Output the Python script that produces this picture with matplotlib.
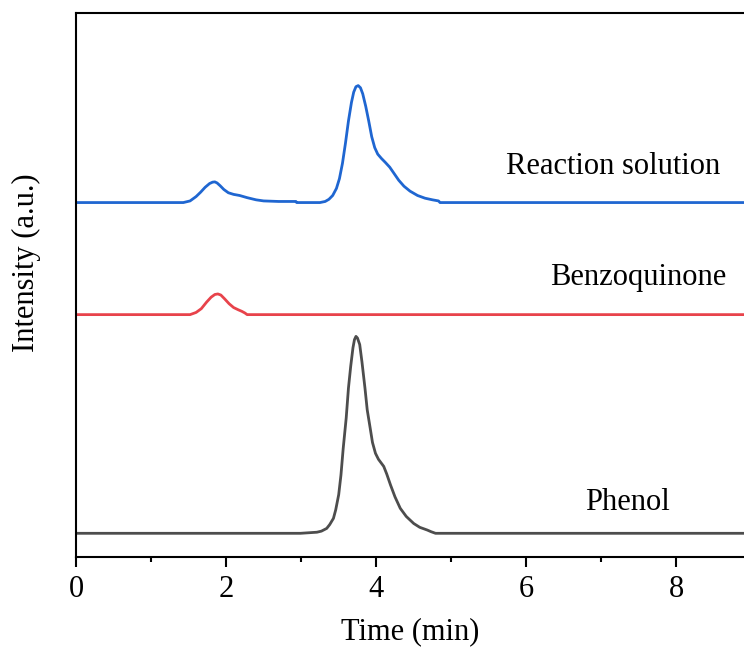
import matplotlib
matplotlib.use("Agg")
import matplotlib.pyplot as plt

# ---- data ----
t_reaction = [0.0, 1.43, 1.52, 1.60, 1.66, 1.72, 1.78, 1.82, 1.85, 1.88, 1.92, 1.97, 2.03, 2.10,
              2.18, 2.28, 2.40, 2.50, 2.70, 2.93,
              2.94, 3.25, 3.32, 3.37, 3.42, 3.47, 3.51, 3.55, 3.59, 3.63, 3.67, 3.70, 3.73, 3.76,
              3.79, 3.82, 3.86, 3.90, 3.94, 3.98, 4.02, 4.07, 4.12, 4.18, 4.24, 4.30, 4.37,
              4.45, 4.55, 4.65, 4.75, 4.83, 4.85, 8.9]
i_reaction = [65.1, 65.1, 65.4, 66.2, 67.0, 67.9, 68.6, 68.85, 68.9, 68.7, 68.2, 67.5, 66.9, 66.6,
              66.4, 66.0, 65.6, 65.4, 65.3, 65.3,
              65.1, 65.1, 65.3, 65.7, 66.4, 67.7, 69.5, 72.3, 76.0, 80.1, 83.5, 85.4, 86.4, 86.6,
              86.2, 85.1, 82.8, 80.1, 77.2, 75.2, 74.0, 73.2, 72.5, 71.6, 70.4, 69.2, 68.1,
              67.2, 66.4, 65.9, 65.6, 65.4, 65.1, 65.1]

t_benzo = [0.0, 1.52, 1.60, 1.67, 1.74, 1.80, 1.85, 1.89, 1.93, 1.98, 2.04, 2.10, 2.16, 2.21,
           2.25, 2.28, 8.9]
i_benzo = [44.5, 44.5, 44.9, 45.6, 46.8, 47.7, 48.2, 48.3, 48.1, 47.4, 46.5, 45.8, 45.4, 45.1,
           44.8, 44.5, 44.5]

t_phenol = [0.0, 2.99, 3.21, 3.27, 3.34, 3.38, 3.43, 3.46, 3.50, 3.53, 3.56, 3.60, 3.63, 3.66,
            3.69, 3.71, 3.73, 3.75, 3.78, 3.81, 3.85, 3.88, 3.92, 3.95, 3.99, 4.03, 4.10,
            4.14, 4.19, 4.25, 4.32, 4.40, 4.50, 4.58, 4.68, 4.73, 4.79, 8.9]
i_phenol = [4.3, 4.3, 4.5, 4.7, 5.2, 5.9, 7.05, 8.6, 11.4, 15.0, 19.9, 25.5, 31.0, 35.0,
            38.4, 39.9, 40.5, 40.2, 39.0, 35.8, 31.0, 27.0, 23.6, 21.0, 19.0, 17.9, 16.6,
            15.2, 13.2, 11.0, 8.9, 7.4, 6.1, 5.4, 4.9, 4.6, 4.3, 4.3]

series_names = ["Reaction solution", "Benzoquinone", "Phenol"]
x_ticks = [0, 2, 4, 6, 8]
x_minor = [1, 3, 5, 7]

plt.rcParams['font.family'] = ['Liberation Serif', 'DejaVu Serif']

fig = plt.figure(figsize=(7.44, 6.55), dpi=100)
W, H = 744, 655
left, right, top, bottom = 76, 744, 12.7, 556.7
ax = fig.add_axes([left / W, 1 - bottom / H, (right - left) / W, (bottom - top) / H])

kw = dict(lw=2.0, solid_joinstyle='round', solid_capstyle='round')
ax.plot(t_reaction, i_reaction, color='#1F66D1', **kw)
ax.plot(t_benzo, i_benzo, color='#E8434B', **kw)
ax.plot(t_phenol, i_phenol, color='#4D4D4D', **kw)

ax.set_xlim(0, 8.9)
ax.set_ylim(0, 100)
ax.set_xticks(x_ticks)
ax.set_xticks(x_minor, minor=True)
ax.set_yticks([])
ax.spines['right'].set_visible(False)
for s in ['left', 'top', 'bottom']:
    ax.spines[s].set_linewidth(1.5)
fs = 22
ax.tick_params(axis='x', which='major', direction='out', length=7, width=1.5,
               labelsize=fs, pad=6)
ax.tick_params(axis='x', which='minor', direction='out', length=3.6, width=1.5)

ax.text((613 - left) / 75, (556.7 - 166) / 5.44, series_names[0], fontsize=fs,
        ha='center', va='center')
ax.text((637.5 - left) / 75, (556.7 - 277) / 5.44, series_names[1], fontsize=fs,
        ha='center', va='center')
ax.text((627.5 - left) / 75, (556.7 - 502) / 5.44, series_names[2], fontsize=fs,
        ha='center', va='center')

fig.text(410 / W, 1 - 639 / H, "Time (min)", fontsize=fs, ha='center', va='baseline')
fig.text(26 / W, 1 - 263 / H, "Intensity (a.u.)", fontsize=fs, ha='center', va='center',
         rotation=90)

fig.savefig("out.png", dpi=100)
